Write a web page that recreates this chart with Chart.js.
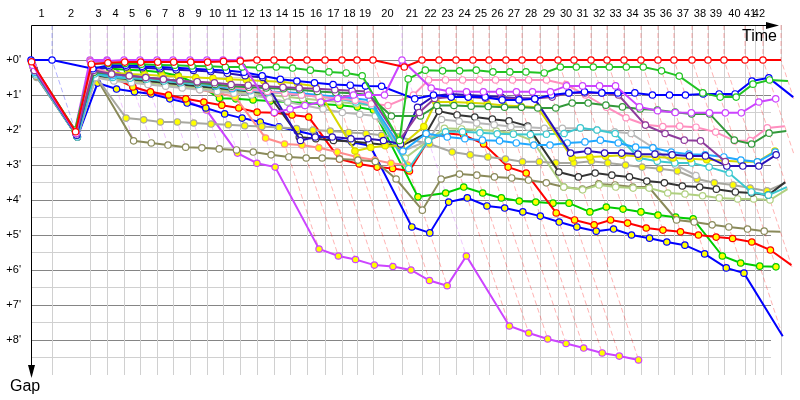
<!DOCTYPE html>
<html>
<head>
<meta charset="utf-8">
<script src="https://cdn.jsdelivr.net/npm/chart.js@4.4.1/dist/chart.umd.min.js"></script>
<style>
  html, body { margin: 0; padding: 0; background: #ffffff; }
  #gapChart { display: block; }
</style>
</head>
<body>
<canvas id="gapChart" width="800" height="400"></canvas>
<script>
// time (minutes) at which the leader crosses each lap line, lap line 0 = start
const lapTimes = [0, 1.83, 5.13, 6.61, 8.09, 9.48, 10.96, 12.35, 13.83, 15.30, 16.70,
    18.17, 19.65, 21.13, 22.52, 24.00, 25.57, 27.04, 28.35, 29.74, 32.26,
    34.00, 35.48, 36.96, 38.43, 39.83, 41.30, 42.70, 44.26, 45.83, 47.22,
    48.70, 50.09, 51.57, 53.04, 54.52, 55.91, 57.48, 58.87, 60.26, 62.09,
    62.96, 63.65, 65.22];
const lapLabels = ['1', '2', '3', '4', '5', '6', '7', '8', '9', '10', '11', '12', '13', '14',
    '15', '16', '17', '18', '19', '20', '21', '22', '23', '24', '25', '26', '27', '28',
    '29', '30', '31', '32', '33', '34', '35', '36', '37', '38', '39', '40', '41', '42'];
const gapTicks = [0, 0.5, 1, 1.5, 2, 2.5, 3, 3.5, 4, 4.5, 5, 5.5, 6, 6.5, 7, 7.5, 8, 8.5];

// gap to the leader (minutes) at each lap line, index = lap line
const gapRed = [0.05, 2.05, 0.12, 0.08, 0.06, 0.06, 0.06, 0.06, 0.06, 0.06, 0.04, 0.03,
    0, 0, 0, 0, 0, 0, 0, 0, 0.2,
    0, 0, 0, 0, 0, 0, 0, 0, 0, 0, 0, 0, 0, 0, 0, 0, 0, 0, 0, 0, null, 0, 0];
const gapViolet = [0.15, 2.1, 0.05, 0.03, 0, 0, 0, 0, 0, 0, 0, 0,
    1.5, 1.4, 1.3, 1.2, 1.1, 1.0, 1.0, 1.0, 0,
    0.8, 0.89, 0.91, 0.91, 0.91, 0.91, 0.91, 0.91, 0.74, 0.74, 0.74, 0.74,
    1.34, 1.45, 1.5, 1.51, 1.51, 1.51, 1.51, 1.2, null, 1.11, 1.11];
const gapVioletB = [0.2, 2.0, 0, 0, 0.75, 0.95, 1.05, 1.15, 1.43, 2.66, 2.95, 3.06,
    5.4, 5.6, 5.7, 5.86, 5.9, 6.0, 6.3, 6.45, 5.6,
    7.6, 7.8, 7.97, 8.1, 8.23, 8.37, 8.46, 8.57];
const gapGreen = [0.1, 2.0, 0.1, 0.1, 0.1, 0.12, 0.14, 0.15, 0.17, 0.18, 0.2, 0.2,
    0.22, 0.2, 0.23, 0.29, 0.34, 0.37, 0.45, 2.3, 0.54,
    0.29, 0.31, 0.31, 0.29, 0.34, 0.34, 0.34, 0.37, 0.2, 0.2, 0.2, 0.2,
    0.2, 0.2, 0.31, 0.46, 0.94, 1.06, 1.06, 0.69, null, 0.57, 0.6];
const gapGreenB = [0.2, 2.1, 0.2, 0.25, 0.28, 0.3, 0.35, 0.45, 0.7, 1.09, 1.11, 1.14,
    1.17, 1.2, 1.23, 1.26, 1.29, 1.34, 1.43, 3.91, 3.8,
    3.63, 3.8, 3.94, 4.03, 4.06, 4.09, 4.09, 4.34, 4.2, 4.26, 4.34, 4.43,
    4.49, 4.54, 5.6, 5.8, 5.89, 5.91, 5.97];
const gapBlue = [0, 0, 0.25, 0.15, 0.15, 0.18, 0.2, 0.22, 0.25, 0.28, 0.3, 0.35,
    0.45, 0.55, 0.6, 0.65, 0.7, 0.72, 0.74, 0.75, 1.11,
    1.0, 1.06, 1.06, 1.06, 1.14, 1.14, 1.11, 1.0, 0.94, 0.91, 0.94, 0.94,
    0.94, 1.0, 1.0, 1.0, 0.97, 0.97, 0.97, 0.6, null, 0.51, 1.06];
const gapBlueB = [0.3, 2.2, 0.66, 0.83, 0.91, 0.97, 1.11, 1.23, 1.37, 1.54, 1.66, 1.77,
    1.91, 2.03, 2.14, 2.25, 2.35, 2.45, 4.77, 4.94, 4.06,
    3.94, 4.17, 4.23, 4.34, 4.46, 4.63, 4.77, 4.89, 4.83, 5.0, 5.09, 5.2,
    5.29, 5.54, 5.94, 6.09, 7.89];
const gapIndigo = [0.25, 2.15, 0.3, 0.2, 0.2, 0.22, 0.25, 0.28, 0.3, 0.33, 0.38, 0.45,
    0.5, 2.3, 2.2, 2.2, 2.25, 2.25, 2.3, 2.4, 1.35,
    1.03, 0.97, 1.0, 1.03, 1.06, 1.09, 1.11, 2.66, 2.6, 2.66, 2.66, 2.69,
    2.69, 2.71, 2.74, 2.74, 3.03, 3.03, 3.03, 2.71, null, 2.71];
const gapDarkGreen = [0.3, 2.1, 0.35, 0.4, 0.45, 0.5, 0.55, 0.6, 0.65, 0.7, 0.75, 0.78,
    0.8, 0.82, 0.85, 0.9, 0.93, 0.95, 1.0, 1.6, 1.6,
    1.3, 1.3, 1.32, 1.33, 1.35, 1.35, 1.37, 1.37, 1.23, 1.23, 1.29, 1.34,
    1.4, 1.43, 1.49, 1.54, 1.54, 2.29, 2.4, 2.09, null, 2.03];
const gapPink = [0.2, 2.0, 0.2, 0.4, 0.45, 0.5, 0.55, 0.6, 0.65, 0.7, 0.78, 0.85,
    0.9, 0.95, 1.0, 1.05, 1.1, 1.15, 1.25, 1.3, 1.0,
    0.57, 0.57, 0.57, 0.57, 0.57, 0.57, 0.57, 0.57, 0.7, 1.0, 1.35, 1.65,
    1.85, 1.9, 1.89, 1.92, 2.06, 2.31, 2.3, 1.94, null, 1.89];
const gapSky = [0.35, 2.15, 0.35, 0.45, 0.45, 0.5, 0.55, 0.6, 0.65, 0.72, 0.8, 0.85,
    0.9, 0.92, 0.95, 1.0, 1.05, 1.1, 1.15, 2.6, 2.1,
    2.2, 2.25, 2.29, 2.31, 2.37, 2.43, 2.43, 2.37, 2.34, 2.29, 2.37, 2.49,
    2.51, 2.63, 2.69, 2.71, 2.77, 2.86, 2.91, 2.63, null, 2.45];
const gapYellow = [0.3, 2.05, 0.3, 0.35, 0.4, 0.42, 0.45, 0.47, 0.5, 0.52, 0.55, 0.57,
    0.6, 0.62, 0.68, 0.75, 2.6, 2.5, 2.45, 2.45, 1.9,
    1.2, 1.2, 1.22, 1.25, 1.3, 1.32, 1.35, 2.8, 2.77, 2.75, 2.72, 2.75,
    2.77, 2.8, 2.82, 2.85, 2.88, 2.91, 2.91, 2.6, null, 2.51];
const gapTurquoise = [0.4, 2.2, 0.4, 0.5, 0.52, 0.55, 0.6, 0.65, 0.7, 0.75, 0.82, 0.88,
    0.92, 0.95, 1.0, 1.05, 1.1, 1.2, 1.3, 3.1, 2.3,
    2.05, 2.05, 2.08, 2.11, 2.12, 2.13, 2.12, 2.1, 1.94, 2.0, 2.1, 2.8,
    2.89, 2.94, 2.94, 3.06, 3.23, 3.77, 3.86, 3.63];
const gapDarkGrey = [0.45, 2.2, 0.45, 0.5, 0.55, 0.6, 0.65, 0.7, 0.75, 0.8, 0.85, 0.9,
    0.95, 2.2, 2.25, 2.3, 2.33, 2.38, 2.42, 2.46, 2.1,
    1.46, 1.57, 1.63, 1.69, 1.74, 1.89, 3.2, 3.34, 3.23, 3.29, 3.34, 3.46,
    3.51, 3.6, 3.63, 3.69, 3.77, 3.8, 3.86, 3.49];
const gapGrey = [0.5, 2.2, 0.45, 1.66, 1.71, 1.77, 1.77, 1.8, 1.83, 1.85, 1.88, 1.9,
    1.93, 1.96, 2.0, 2.03, 2.07, 2.1, 2.15, 2.2, 2.4,
    2.63, 2.71, 2.77, 2.83, 2.91, 2.91, 2.94, 2.94, 2.89, 2.94, 3.0, 3.06,
    3.11, 3.17, 3.4, 3.51, 3.57, 3.66, 3.74, 3.51];
const gapLime = [0.4, 2.2, 0.5, 0.55, 0.6, 0.65, 0.7, 0.75, 0.8, 0.85, 0.9, 0.95,
    1.0, 1.05, 1.1, 1.15, 1.2, 1.25, 1.3, 2.8, 2.3,
    1.95, 1.97, 2.0, 2.03, 2.09, 2.3, 3.63, 3.71, 3.57, 3.63, 3.66, 3.66,
    3.8, 3.83, 3.88, 3.94, 3.97, 3.97, 4.0, 3.69];
const gapOlive = [0.45, 2.2, 0.45, 2.31, 2.37, 2.43, 2.49, 2.51, 2.54, 2.57, 2.63, 2.71,
    2.77, 2.8, 2.8, 2.83, 2.86, 2.9, 3.4, 4.29, 3.4,
    3.26, 3.29, 3.34, 3.37, 3.43, 3.51, 3.63, 3.69, 3.54, 3.57, 3.63, 3.63,
    4.57, 4.63, 4.71, 4.77, 4.83, 4.89, 4.91];
const gapRedB = [0.25, 2.1, 0.3, 0.49, 0.77, 0.91, 1.0, 1.11, 1.2, 1.29, 1.37, 1.49,
    1.51, 1.57, 1.63, 2.83, 2.97, 3.06, 3.1, 3.17, 2.29,
    2.09, 2.14, 2.4, 3.06, 3.23, 4.37, 4.57, 4.71, 4.57, 4.66, 4.8, 4.86,
    4.91, 5.0, 5.06, 5.1, 5.2, 5.43, 5.86];
const gapPlum = [0.3, 2.1, 0.3, 0.4, 0.45, 0.5, 0.55, 0.6, 0.62, 0.65, 0.7, 0.72,
    0.75, 0.78, 0.8, 0.82, 0.85, 0.88, 0.9, 2.3, 1.5,
    1.1, 1.06, 1.06, 1.09, 1.1, 1.1, 1.1, 1.06, 0.94, 0.94, 0.94, 1.0,
    1.86, 2.1, 2.29, 2.31, 2.9];
const gapSalmon = [0.35, 2.15, 0.4, 0.5, 0.55, 0.6, 0.68, 0.75, 0.85, 0.95, 1.05, 2.23,
    2.4, 2.43, 2.51, 2.63, 2.77, 2.86, 2.95, 3.0];
const gapSilver = [0.45, 2.2, 0.5, 0.6, 0.65, 0.7, 0.75, 0.8, 0.85, 0.9, 0.95, 1.0,
    1.1, 1.2, 1.3, 1.4, 1.5, 1.55, 1.6, 2.6, 2.3,
    1.7, 1.75, 1.8, 1.85, 1.9, 1.92, 1.95, 1.95, 1.95, 2.0, 2.05, 2.1,
    2.5, 3.0, 3.3];

// line colour and marker fill of every driver
const drivers = [
    { gaps: gapRed, color: '#ff0000', marker: '#ffffff' },
    { gaps: gapViolet, color: '#cc44ff', marker: '#ffffff' },
    { gaps: gapGreen, color: '#22c422', marker: '#ffffff' },
    { gaps: gapBlue, color: '#0000ff', marker: '#ffffff' },
    { gaps: gapPlum, color: '#8e3c9c', marker: '#ffffff' },
    { gaps: gapDarkGreen, color: '#33993a', marker: '#ffffff' },
    { gaps: gapPink, color: '#ff8fbf', marker: '#ffffff' },
    { gaps: gapIndigo, color: '#2a10b8', marker: '#ffffff' },
    { gaps: gapSky, color: '#20a8ff', marker: '#ffffff' },
    { gaps: gapYellow, color: '#d8d800', marker: '#ffff00' },
    { gaps: gapTurquoise, color: '#3cc8d0', marker: '#ffffff' },
    { gaps: gapSilver, color: '#b8b8b8', marker: '#ffffff' },
    { gaps: gapDarkGrey, color: '#333333', marker: '#ffffff' },
    { gaps: gapGrey, color: '#a8a8a0', marker: '#ffff00' },
    { gaps: gapLime, color: '#b0d080', marker: '#ffffff' },
    { gaps: gapOlive, color: '#8a8a5a', marker: '#ffffff' },
    { gaps: gapSalmon, color: '#ff8c8c', marker: '#ffff00' },
    { gaps: gapRedB, color: '#ff0000', marker: '#ffff00' },
    { gaps: gapGreenB, color: '#00cc00', marker: '#ffff00' },
    { gaps: gapBlueB, color: '#0000ff', marker: '#ffff00' },
    { gaps: gapVioletB, color: '#cc44ff', marker: '#ffff00' }
];

function fade(hex, a) {
    const n = parseInt(hex.slice(1), 16);
    return 'rgba(' + (n >> 16) + ',' + ((n >> 8) & 255) + ',' + (n & 255) + ',' + a + ')';
}

const lapLineTicks = lapLabels.map((l, i) => (lapTimes[i] + lapTimes[i + 1]) / 2);

const lapGrid = {
    id: 'lapGrid',
    beforeDatasetsDraw(chart) {
        const { ctx, chartArea, scales: { x, y } } = chart;
        ctx.save();
        ctx.lineWidth = 1;
        ctx.strokeStyle = '#d0d0d0';
        lapTimes.forEach((t, k) => {
            if (k === 0) return;
            const px = Math.round(x.getPixelForValue(t)) + 0.5;
            ctx.beginPath();
            ctx.moveTo(px, chartArea.top);
            ctx.lineTo(px, chartArea.bottom);
            ctx.stroke();
        });
        ctx.setLineDash([5, 3]);
        lapTimes.forEach((t, k) => {
            if (k === 0) return;
            let lead = null;
            let maxGap = null;
            drivers.forEach(d => {
                const g = d.gaps[k];
                if (g == null) return;
                if (lead === null || g < lead.g) lead = { g: g, color: d.color };
                if (maxGap === null || g > maxGap) maxGap = g;
            });
            if (!lead || lead.g > 0.001) return;
            ctx.strokeStyle = fade(lead.color, 0.3);
            ctx.beginPath();
            ctx.moveTo(x.getPixelForValue(t), chartArea.top);
            ctx.lineTo(x.getPixelForValue(t), y.getPixelForValue(0));
            ctx.lineTo(x.getPixelForValue(t + maxGap), y.getPixelForValue(maxGap));
            ctx.stroke();
        });
        ctx.setLineDash([]);

        // axes with arrows
        const top = chartArea.top + 0.5;
        const left = chartArea.left + 0.5;
        ctx.strokeStyle = '#000000';
        ctx.fillStyle = '#000000';
        ctx.beginPath();
        ctx.moveTo(left, top);
        ctx.lineTo(767, top);
        ctx.moveTo(left, top);
        ctx.lineTo(left, 366);
        ctx.stroke();
        ctx.beginPath();
        ctx.moveTo(766, top - 3.5);
        ctx.lineTo(779, top);
        ctx.lineTo(766, top + 3.5);
        ctx.closePath();
        ctx.fill();
        ctx.beginPath();
        ctx.moveTo(left - 3.5, 365);
        ctx.lineTo(left, 378);
        ctx.lineTo(left + 3.5, 365);
        ctx.closePath();
        ctx.fill();

        ctx.font = "16px 'Liberation Sans', Arial, sans-serif";
        ctx.textAlign = 'right';
        ctx.textBaseline = 'alphabetic';
        ctx.fillText('Time', 777, 41);
        ctx.textAlign = 'left';
        ctx.fillText('Gap', 10, 391);
        ctx.restore();
    }
};

Chart.defaults.font.family = "'Liberation Sans', Arial, sans-serif";
Chart.defaults.font.size = 11;
Chart.defaults.color = '#000000';

const ctxGap = document.getElementById('gapChart');

const dataGap = {
    datasets: drivers.map(d => ({
        data: d.gaps.map((g, k) => (g == null ? null : { x: lapTimes[k] + g, y: g })).filter(p => p),
        borderColor: d.color,
        backgroundColor: d.color,
        pointBackgroundColor: d.marker,
        pointBorderColor: d.color,
        pointRadius: 3.2,
        pointBorderWidth: 1.2,
        borderWidth: 2,
        tension: 0,
        clip: false
    }))
};

const configGap = {
    type: 'line',
    data: dataGap,
    plugins: [lapGrid],
    options: {
        responsive: false,
        animation: false,
        layout: {
            padding: { top: 0, left: 0, right: 29, bottom: 25 }
        },
        plugins: {
            legend: { display: false },
            tooltip: { enabled: false }
        },
        scales: {
            x: {
                type: 'linear',
                position: 'top',
                min: 0,
                max: 64.35,
                afterBuildTicks: s => { s.ticks = lapLineTicks.map(v => ({ value: v })); },
                afterFit: s => { s.height = 25; },
                grid: { display: false, drawTicks: false },
                border: { display: false },
                ticks: {
                    autoSkip: false,
                    maxRotation: 0,
                    minRotation: 0,
                    padding: 4,
                    callback: (v, i) => lapLabels[i]
                }
            },
            y: {
                type: 'linear',
                reverse: true,
                min: -1,
                max: 9,
                afterBuildTicks: s => { s.ticks = gapTicks.map(v => ({ value: v })); },
                afterFit: s => { s.width = 31; },
                grid: {
                    drawTicks: false,
                    color: c => (Number.isInteger(c.tick.value) ? '#858585' : '#d0d0d0')
                },
                border: { display: false },
                ticks: {
                    padding: 10,
                    callback: v => (Number.isInteger(v) ? "+" + v + "'" : '')
                }
            }
        }
    }
};

const lineChartGap = new Chart(
    ctxGap,
    configGap
);
</script>
</body>
</html>
